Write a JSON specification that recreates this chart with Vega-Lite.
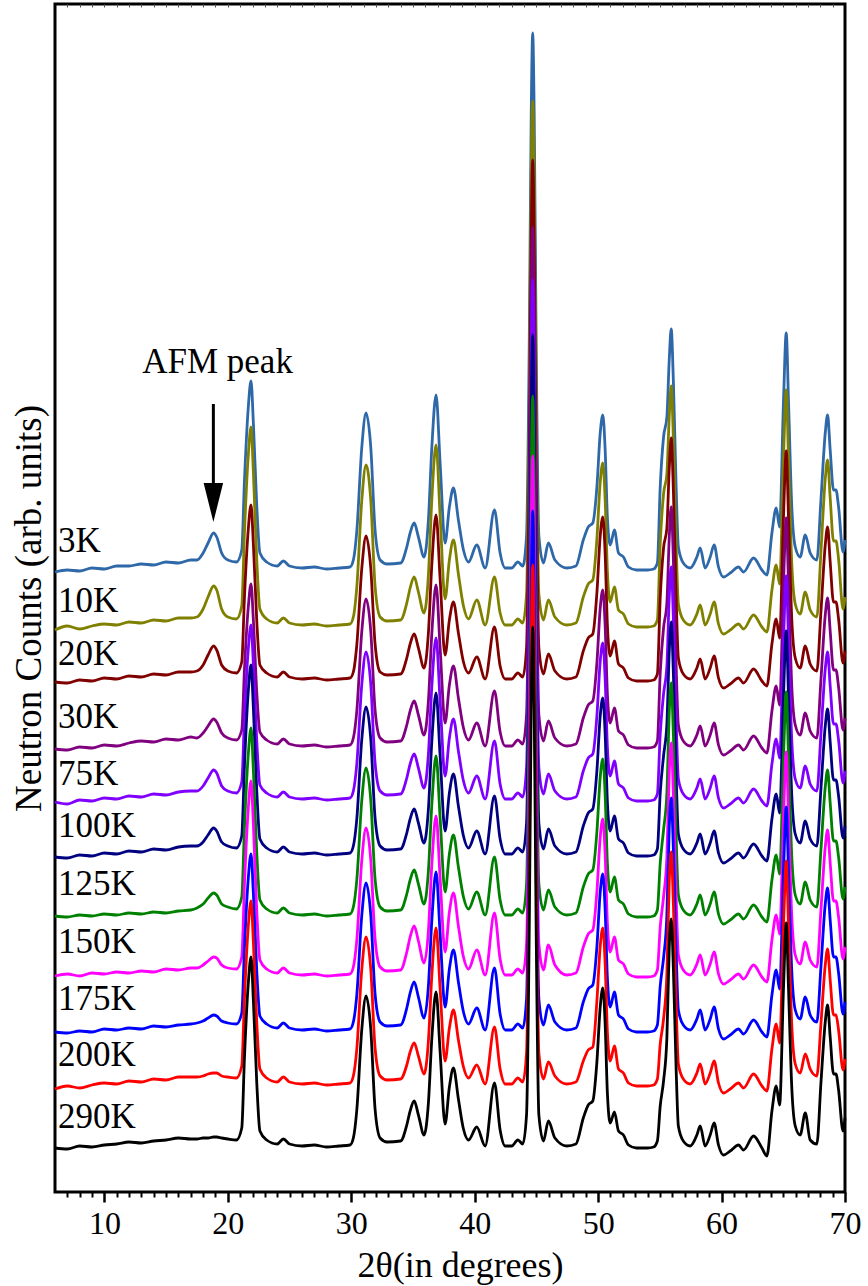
{
"$schema":"https://vega.github.io/schema/vega-lite/v6.json",
"width":790,"height":1188,
"autosize":{"type":"none"},
"padding":{"left":55,"top":4,"right":23,"bottom":94},
"background":"white",
"config":{"view":{"stroke":"black","strokeWidth":3},"font":"Liberation Serif"},
"datasets":{
"xrd":[
{"x":6,"a":620,"b":562,"c":510,"d":443,"e":390,"f":335,"g":276,"h":216,"i":160,"j":103,"k":44},
{"x":7,"a":622,"b":566,"c":509,"d":442,"e":388,"f":334,"g":275,"h":218,"i":159,"j":106,"k":43},
{"x":8,"a":621,"b":563,"c":512,"d":445,"e":392,"f":337,"g":277,"h":216,"i":161,"j":104,"k":46},
{"x":9,"a":624,"b":566,"c":511,"d":444,"e":391,"f":336,"g":276,"h":219,"i":160,"j":107,"k":45},
{"x":10,"a":623,"b":568,"c":514,"d":447,"e":394,"f":339,"g":278,"h":218,"i":163,"j":109,"k":47},
{"x":11,"a":626,"b":567,"c":513,"d":446,"e":393,"f":338,"g":277,"h":220,"i":162,"j":108,"k":48},
{"x":12,"a":626,"b":570,"c":516,"d":449,"e":396,"f":341,"g":279,"h":219,"i":164,"j":111,"k":50},
{"x":13,"a":628,"b":569,"c":515,"d":451,"e":395,"f":340,"g":278,"h":221,"i":163,"j":110,"k":49},
{"x":14,"a":627,"b":572,"c":518,"d":450,"e":398,"f":343,"g":280,"h":220,"i":166,"j":113,"k":51},
{"x":15,"a":630,"b":571,"c":517,"d":453,"e":397,"f":342,"g":279,"h":223,"i":165,"j":112,"k":52},
{"x":16,"a":629,"b":574,"c":520,"d":452,"e":400,"f":345,"g":281,"h":222,"i":167,"j":115,"k":54},
{"x":17,"a":632,"b":574,"c":520,"d":455,"e":401,"f":346,"g":282,"h":224,"i":168,"j":115,"k":53},
{"x":17.5,"a":632,"b":575,"c":521,"d":454,"e":401,"f":346,"g":284,"h":224,"i":169,"j":115,"k":53},
{"x":18.0,"a":639,"b":583,"c":527,"d":459,"e":406,"f":350,"g":288,"h":227,"i":171,"j":116,"k":54},
{"x":18.4,"a":649,"b":595,"c":537,"d":466,"e":414,"f":357,"g":294,"h":231,"i":174,"j":118,"k":54},
{"x":18.85,"a":659,"b":606,"c":546,"d":473,"e":422,"f":364,"g":299,"h":235,"i":177,"j":119,"k":55},
{"x":19.1,"a":655,"b":602,"c":542,"d":470,"e":419,"f":361,"g":297,"h":234,"i":176,"j":119,"k":55},
{"x":19.5,"a":639,"b":583,"c":527,"d":459,"e":406,"f":350,"g":288,"h":227,"i":171,"j":116,"k":54},
{"x":20.0,"a":632,"b":575,"c":521,"d":454,"e":401,"f":346,"g":285,"h":224,"i":169,"j":115,"k":53},
{"x":20.7,"a":630,"b":573,"c":519,"d":452,"e":399,"f":344,"g":283,"h":223,"i":168,"j":114,"k":52},
{"x":21.13,"a":642,"b":586,"c":530,"d":462,"e":410,"f":356,"g":295,"h":235,"i":179,"j":126,"k":64},
{"x":21.35,"a":712,"b":660,"c":595,"d":523,"e":475,"f":427,"g":365,"h":308,"i":245,"j":194,"k":135},
{"x":21.66,"a":785,"b":737,"c":663,"d":585,"e":543,"f":501,"g":438,"h":384,"i":314,"j":266,"k":209},
{"x":21.88,"a":811,"b":765,"c":687,"d":608,"e":567,"f":527,"g":464,"h":411,"i":338,"j":291,"k":235},
{"x":22.07,"a":769,"b":720,"c":648,"d":572,"e":528,"f":484,"g":422,"h":368,"i":299,"j":250,"k":192},
{"x":22.35,"a":685,"b":631,"c":570,"d":499,"e":450,"f":400,"g":338,"h":280,"i":220,"j":168,"k":108},
{"x":22.6,"a":639,"b":583,"c":527,"d":460,"e":407,"f":353,"g":292,"h":232,"i":176,"j":123,"k":61},
{"x":23.15,"a":630,"b":573,"c":519,"d":452,"e":399,"f":344,"g":283,"h":223,"i":168,"j":114,"k":52},
{"x":24.0,"a":626,"b":569,"c":515,"d":448,"e":395,"f":340,"g":279,"h":219,"i":164,"j":110,"k":48},
{"x":24.5,"a":631,"b":574,"c":520,"d":453,"e":400,"f":345,"g":284,"h":224,"i":169,"j":115,"k":53},
{"x":25.0,"a":626,"b":569,"c":515,"d":448,"e":395,"f":340,"g":279,"h":219,"i":164,"j":110,"k":48},
{"x":26,"a":624,"b":567,"c":513,"d":446,"e":393,"f":338,"g":277,"h":217,"i":162,"j":108,"k":46},
{"x":27,"a":625,"b":568,"c":514,"d":447,"e":394,"f":339,"g":278,"h":218,"i":163,"j":109,"k":47},
{"x":28,"a":623,"b":566,"c":512,"d":445,"e":392,"f":337,"g":276,"h":216,"i":161,"j":107,"k":45},
{"x":29,"a":624,"b":567,"c":513,"d":446,"e":393,"f":338,"g":277,"h":217,"i":162,"j":108,"k":46},
{"x":29.9,"a":625,"b":568,"c":514,"d":447,"e":394,"f":339,"g":278,"h":218,"i":163,"j":109,"k":47},
{"x":30.17,"a":632,"b":575,"c":520,"d":454,"e":401,"f":346,"g":285,"h":225,"i":170,"j":116,"k":54},
{"x":30.45,"a":661,"b":605,"c":547,"d":481,"e":428,"f":373,"g":312,"h":252,"i":197,"j":143,"k":82},
{"x":30.85,"a":744,"b":691,"c":623,"d":560,"e":507,"f":452,"g":391,"h":331,"i":276,"j":222,"k":162},
{"x":31.2,"a":779,"b":727,"c":656,"d":593,"e":540,"f":485,"g":424,"h":364,"i":309,"j":255,"k":196},
{"x":31.58,"a":745,"b":692,"c":624,"d":561,"e":508,"f":453,"g":392,"h":332,"i":277,"j":223,"k":163},
{"x":31.93,"a":662,"b":606,"c":548,"d":482,"e":429,"f":374,"g":313,"h":253,"i":198,"j":144,"k":83},
{"x":32.34,"a":632,"b":575,"c":520,"d":454,"e":401,"f":346,"g":285,"h":225,"i":170,"j":116,"k":54},
{"x":32.9,"a":628,"b":571,"c":517,"d":450,"e":397,"f":342,"g":281,"h":221,"i":166,"j":112,"k":50},
{"x":34.0,"a":629,"b":572,"c":518,"d":451,"e":398,"f":343,"g":282,"h":222,"i":167,"j":113,"k":51},
{"x":34.5,"a":645,"b":589,"c":534,"d":467,"e":414,"f":359,"g":298,"h":240,"i":184,"j":127,"k":67},
{"x":34.77,"a":659,"b":604,"c":548,"d":481,"e":428,"f":373,"g":312,"h":255,"i":199,"j":140,"k":81},
{"x":35.1,"a":669,"b":615,"c":558,"d":491,"e":438,"f":383,"g":322,"h":266,"i":210,"j":149,"k":91},
{"x":35.44,"a":655,"b":600,"c":544,"d":477,"e":424,"f":369,"g":308,"h":251,"i":195,"j":136,"k":77},
{"x":35.9,"a":635,"b":579,"c":524,"d":457,"e":404,"f":349,"g":288,"h":229,"i":174,"j":118,"k":57},
{"x":36.25,"a":672,"b":617,"c":559,"d":491,"e":438,"f":383,"g":321,"h":261,"i":206,"j":151,"k":89},
{"x":36.53,"a":745,"b":693,"c":628,"d":559,"e":506,"f":451,"g":388,"h":328,"i":272,"j":217,"k":154},
{"x":36.87,"a":797,"b":747,"c":677,"d":607,"e":554,"f":499,"g":436,"h":376,"i":320,"j":264,"k":200},
{"x":37.2,"a":729,"b":676,"c":613,"d":544,"e":491,"f":436,"g":374,"h":314,"i":258,"j":203,"k":140},
{"x":37.6,"a":649,"b":593,"c":537,"d":469,"e":416,"f":361,"g":300,"h":240,"i":185,"j":131,"k":68},
{"x":37.95,"a":685,"b":632,"c":572,"d":507,"e":454,"f":399,"g":338,"h":280,"i":223,"j":164,"k":105},
{"x":38.28,"a":704,"b":652,"c":590,"d":526,"e":473,"f":418,"g":357,"h":299,"i":242,"j":182,"k":124},
{"x":38.68,"a":672,"b":618,"c":559,"d":494,"e":441,"f":386,"g":325,"h":266,"i":210,"j":152,"k":93},
{"x":39.09,"a":642,"b":586,"c":530,"d":464,"e":411,"f":356,"g":295,"h":235,"i":180,"j":125,"k":63},
{"x":39.5,"a":630,"b":573,"c":519,"d":452,"e":399,"f":344,"g":283,"h":223,"i":168,"j":114,"k":52},
{"x":40.17,"a":647,"b":592,"c":535,"d":469,"e":416,"f":361,"g":300,"h":242,"i":184,"j":127,"k":65},
{"x":40.85,"a":624,"b":567,"c":513,"d":446,"e":393,"f":338,"g":277,"h":217,"i":162,"j":108,"k":46},
{"x":41.6,"a":682,"b":615,"c":565,"d":501,"e":451,"f":396,"g":335,"h":279,"i":224,"j":165,"k":109},
{"x":42.06,"a":639,"b":579,"c":526,"d":460,"e":408,"f":353,"g":292,"h":233,"i":178,"j":123,"k":62},
{"x":42.47,"a":624,"b":567,"c":513,"d":446,"e":393,"f":338,"g":277,"h":217,"i":162,"j":108,"k":46},
{"x":43.0,"a":624,"b":567,"c":513,"d":446,"e":393,"f":338,"g":277,"h":217,"i":162,"j":108,"k":46},
{"x":43.5,"a":630,"b":573,"c":519,"d":452,"e":399,"f":344,"g":283,"h":223,"i":168,"j":114,"k":52},
{"x":43.9,"a":626,"b":569,"c":515,"d":448,"e":395,"f":340,"g":279,"h":219,"i":164,"j":110,"k":48},
{"x":44.2,"a":656,"b":598,"c":544,"d":477,"e":424,"f":369,"g":308,"h":248,"i":193,"j":139,"k":77},
{"x":44.42,"a":848,"b":786,"c":730,"d":663,"e":610,"f":555,"g":494,"h":434,"i":379,"j":325,"k":263},
{"x":44.58,"a":1078,"b":1012,"c":953,"d":886,"e":833,"f":778,"g":717,"h":657,"i":602,"j":548,"k":486},
{"x":44.7,"a":1159,"b":1091,"c":1032,"d":965,"e":912,"f":857,"g":796,"h":736,"i":681,"j":627,"k":565},
{"x":44.82,"a":1078,"b":1012,"c":953,"d":886,"e":833,"f":778,"g":717,"h":657,"i":602,"j":548,"k":486},
{"x":44.98,"a":848,"b":786,"c":730,"d":663,"e":610,"f":555,"g":494,"h":434,"i":379,"j":325,"k":263},
{"x":45.2,"a":656,"b":598,"c":544,"d":477,"e":424,"f":369,"g":308,"h":248,"i":193,"j":139,"k":77},
{"x":45.57,"a":629,"b":572,"c":518,"d":451,"e":398,"f":343,"g":282,"h":222,"i":167,"j":113,"k":51},
{"x":45.97,"a":649,"b":592,"c":538,"d":471,"e":418,"f":363,"g":302,"h":247,"i":187,"j":130,"k":71},
{"x":46.5,"a":632,"b":575,"c":521,"d":454,"e":401,"f":346,"g":285,"h":227,"i":170,"j":116,"k":54},
{"x":47.46,"a":624,"b":567,"c":513,"d":446,"e":393,"f":338,"g":277,"h":217,"i":162,"j":108,"k":46},
{"x":48.2,"a":626,"b":569,"c":515,"d":448,"e":395,"f":340,"g":279,"h":219,"i":164,"j":110,"k":48},
{"x":48.8,"a":652,"b":595,"c":541,"d":474,"e":421,"f":366,"g":305,"h":245,"i":190,"j":131,"k":74},
{"x":49.2,"a":665,"b":608,"c":554,"d":487,"e":434,"f":379,"g":318,"h":258,"i":203,"j":142,"k":87},
{"x":49.57,"a":669,"b":612,"c":558,"d":491,"e":438,"f":383,"g":322,"h":262,"i":207,"j":145,"k":91},
{"x":49.9,"a":705,"b":653,"c":599,"d":529,"e":476,"f":421,"g":360,"h":300,"i":245,"j":191,"k":130},
{"x":50.17,"a":759,"b":710,"c":656,"d":584,"e":531,"f":476,"g":415,"h":355,"i":300,"j":246,"k":185},
{"x":50.38,"a":777,"b":729,"c":675,"d":602,"e":549,"f":494,"g":433,"h":373,"i":318,"j":264,"k":204},
{"x":50.57,"a":742,"b":692,"c":638,"d":566,"e":513,"f":458,"g":397,"h":337,"i":282,"j":228,"k":168},
{"x":50.75,"a":675,"b":621,"c":567,"d":498,"e":445,"f":390,"g":329,"h":269,"i":214,"j":160,"k":99},
{"x":50.98,"a":647,"b":590,"c":536,"d":469,"e":416,"f":361,"g":300,"h":240,"i":185,"j":131,"k":69},
{"x":51.32,"a":662,"b":605,"c":551,"d":484,"e":431,"f":376,"g":315,"h":255,"i":200,"j":146,"k":80},
{"x":51.65,"a":639,"b":582,"c":528,"d":461,"e":408,"f":353,"g":292,"h":232,"i":177,"j":123,"k":61},
{"x":52.05,"a":635,"b":578,"c":524,"d":457,"e":404,"f":349,"g":288,"h":228,"i":173,"j":119,"k":57},
{"x":52.46,"a":625,"b":568,"c":514,"d":447,"e":394,"f":339,"g":278,"h":218,"i":163,"j":109,"k":47},
{"x":53.1,"a":622,"b":565,"c":511,"d":444,"e":391,"f":336,"g":275,"h":215,"i":160,"j":106,"k":44},
{"x":54.0,"a":622,"b":565,"c":511,"d":444,"e":391,"f":336,"g":275,"h":215,"i":160,"j":106,"k":44},
{"x":54.5,"a":623,"b":566,"c":512,"d":445,"e":392,"f":337,"g":276,"h":216,"i":161,"j":107,"k":45},
{"x":54.8,"a":629,"b":572,"c":518,"d":451,"e":398,"f":343,"g":282,"h":222,"i":167,"j":113,"k":51},
{"x":55.03,"a":705,"b":648,"c":594,"d":519,"e":458,"f":399,"g":329,"h":265,"i":206,"j":148,"k":86},
{"x":55.3,"a":755,"b":698,"c":644,"d":564,"e":498,"f":436,"g":362,"h":295,"i":234,"j":173,"k":111},
{"x":55.57,"a":775,"b":718,"c":664,"d":589,"e":526,"f":468,"g":399,"h":335,"i":277,"j":218,"k":154},
{"x":55.76,"a":832,"b":775,"c":723,"d":654,"e":595,"f":540,"g":479,"h":419,"i":364,"j":310,"k":244},
{"x":55.92,"a":863,"b":806,"c":754,"d":685,"e":625,"f":570,"g":509,"h":449,"i":394,"j":340,"k":273},
{"x":56.1,"a":809,"b":752,"c":700,"d":631,"e":572,"f":517,"g":456,"h":396,"i":341,"j":287,"k":222},
{"x":56.32,"a":705,"b":648,"c":595,"d":527,"e":472,"f":417,"g":356,"h":296,"i":241,"j":187,"k":123},
{"x":56.5,"a":645,"b":588,"c":534,"d":467,"e":413,"f":358,"g":297,"h":237,"i":182,"j":128,"k":66},
{"x":56.9,"a":629,"b":572,"c":518,"d":451,"e":398,"f":343,"g":282,"h":222,"i":167,"j":113,"k":51},
{"x":57.46,"a":624,"b":567,"c":513,"d":446,"e":393,"f":338,"g":277,"h":217,"i":162,"j":108,"k":46},
{"x":58.0,"a":635,"b":578,"c":524,"d":457,"e":404,"f":349,"g":288,"h":228,"i":173,"j":119,"k":57},
{"x":58.27,"a":644,"b":587,"c":533,"d":466,"e":413,"f":358,"g":297,"h":237,"i":182,"j":128,"k":66},
{"x":58.67,"a":624,"b":567,"c":513,"d":446,"e":393,"f":338,"g":277,"h":217,"i":162,"j":108,"k":46},
{"x":59.08,"a":635,"b":578,"c":524,"d":457,"e":404,"f":349,"g":288,"h":228,"i":173,"j":119,"k":57},
{"x":59.4,"a":647,"b":590,"c":536,"d":469,"e":416,"f":361,"g":300,"h":240,"i":185,"j":131,"k":69},
{"x":59.75,"a":625,"b":568,"c":514,"d":447,"e":394,"f":339,"g":278,"h":218,"i":163,"j":109,"k":47},
{"x":60.16,"a":615,"b":558,"c":504,"d":437,"e":384,"f":329,"g":268,"h":208,"i":153,"j":99,"k":37},
{"x":60.7,"a":619,"b":562,"c":508,"d":441,"e":388,"f":333,"g":272,"h":212,"i":157,"j":103,"k":41},
{"x":61.37,"a":625,"b":568,"c":514,"d":447,"e":394,"f":339,"g":278,"h":218,"i":163,"j":109,"k":47},
{"x":61.78,"a":620,"b":563,"c":509,"d":442,"e":389,"f":334,"g":273,"h":213,"i":158,"j":104,"k":42},
{"x":62.59,"a":634,"b":577,"c":523,"d":456,"e":403,"f":348,"g":287,"h":227,"i":172,"j":118,"k":56},
{"x":63.27,"a":622,"b":565,"c":511,"d":444,"e":391,"f":336,"g":275,"h":215,"i":160,"j":106,"k":44},
{"x":63.67,"a":617,"b":560,"c":506,"d":439,"e":386,"f":331,"g":270,"h":210,"i":155,"j":101,"k":36},
{"x":64.08,"a":659,"b":602,"c":548,"d":481,"e":428,"f":373,"g":312,"h":252,"i":197,"j":143,"k":81},
{"x":64.43,"a":684,"b":627,"c":573,"d":506,"e":453,"f":398,"g":337,"h":277,"i":222,"j":168,"k":106},
{"x":64.7,"a":665,"b":608,"c":554,"d":487,"e":434,"f":379,"g":318,"h":258,"i":203,"j":149,"k":87},
{"x":65.02,"a":792,"b":735,"c":676,"d":609,"e":552,"f":497,"g":436,"h":376,"i":321,"j":267,"k":205},
{"x":65.24,"a":859,"b":802,"c":741,"d":674,"e":616,"f":561,"g":500,"h":440,"i":385,"j":331,"k":269},
{"x":65.42,"a":792,"b":735,"c":676,"d":609,"e":552,"f":497,"g":436,"h":376,"i":321,"j":267,"k":205},
{"x":65.69,"a":685,"b":628,"c":572,"d":505,"e":451,"f":396,"g":335,"h":275,"i":220,"j":166,"k":104},
{"x":65.97,"a":645,"b":588,"c":534,"d":467,"e":413,"f":358,"g":297,"h":237,"i":182,"j":128,"k":66},
{"x":66.37,"a":635,"b":578,"c":524,"d":457,"e":404,"f":349,"g":288,"h":228,"i":173,"j":119,"k":57},
{"x":66.78,"a":657,"b":600,"c":546,"d":479,"e":426,"f":371,"g":310,"h":250,"i":195,"j":138,"k":79},
{"x":67.18,"a":639,"b":582,"c":528,"d":461,"e":408,"f":353,"g":292,"h":232,"i":177,"j":123,"k":52},
{"x":67.72,"a":632,"b":575,"c":521,"d":454,"e":401,"f":346,"g":285,"h":225,"i":170,"j":116,"k":48},
{"x":68.05,"a":692,"b":640,"c":580,"d":512,"e":458,"f":403,"g":342,"h":282,"i":225,"j":168,"k":109},
{"x":68.4,"a":759,"b":713,"c":647,"d":577,"e":523,"f":466,"g":405,"h":345,"i":288,"j":227,"k":170},
{"x":68.59,"a":777,"b":732,"c":665,"d":594,"e":540,"f":483,"g":422,"h":362,"i":304,"j":243,"k":187},
{"x":68.8,"a":742,"b":694,"c":630,"d":561,"e":506,"f":450,"g":389,"h":329,"i":272,"j":212,"k":155},
{"x":69.07,"a":702,"b":651,"c":590,"d":522,"e":468,"f":412,"g":351,"h":291,"i":235,"j":177,"k":118},
{"x":69.27,"a":702,"b":651,"c":590,"d":522,"e":468,"f":412,"g":351,"h":291,"i":235,"j":177,"k":118},
{"x":69.48,"a":685,"b":633,"c":573,"d":505,"e":452,"f":396,"g":335,"h":275,"i":219,"j":162,"k":102},
{"x":69.84,"a":640,"b":583,"c":529,"d":462,"e":409,"f":354,"g":293,"h":233,"i":178,"j":122,"k":61},
{"x":70.0,"a":652,"b":595,"c":541,"d":474,"e":421,"f":366,"g":305,"h":245,"i":190,"j":133,"k":74}
],
"labels":[
{"x":6.25,"v":640,"t":"3K"},
{"x":6.25,"v":580,"t":"10K"},
{"x":6.25,"v":527,"t":"20K"},
{"x":6.25,"v":464,"t":"30K"},
{"x":6.25,"v":407,"t":"75K"},
{"x":6.25,"v":355,"t":"100K"},
{"x":6.25,"v":297,"t":"125K"},
{"x":6.25,"v":239,"t":"150K"},
{"x":6.25,"v":182,"t":"175K"},
{"x":6.25,"v":126,"t":"200K"},
{"x":6.25,"v":64,"t":"290K"}
],
"arrow":[{"x":18.83,"v":788,"v2":705}],
"head":[{"x":18.83,"v":689.5}],
"note":[{"x":19.17,"v":819,"t":"AFM peak"}]
},
"layer":[
{
"data":{"name":"xrd"},
"transform":[{"fold":["a","b","c","d","e","f","g","h","i","j","k"],"as":["s","v"]}],
"mark":{"type":"line","strokeWidth":2.8,"interpolate":"monotone","strokeJoin":"round"},
"encoding":{
"x":{"field":"x","type":"quantitative","scale":{"domain":[6,70],"nice":false,"zero":false},
"axis":{"orient":"bottom","values":[10,20,30,40,50,60,70],"tickSize":10,"tickWidth":2.5,"tickColor":"black","domain":false,"grid":false,
"labelFont":"Liberation Serif","labelFontSize":32,"labelColor":"black","labelBaseline":"alphabetic","labelPadding":31,"labelFlush":false,
"title":"2θ(in degrees)","titleFont":"Liberation Serif","titleFontSize":36,"titleFontWeight":"normal","titleColor":"black","titleX":405,"titleY":84,"titleAlign":"center","titleBaseline":"alphabetic"}},
"y":{"field":"v","type":"quantitative","scale":{"domain":[0,1188],"nice":false,"zero":false},
"axis":{"title":"Neutron Counts (arb. units)","ticks":false,"labels":false,"domain":false,"grid":false,
"titleFont":"Liberation Serif","titleFontSize":37,"titleFontWeight":"normal","titleColor":"black","titleX":-15,"titleY":604,"titleAngle":-90,"titleAlign":"center","titleBaseline":"alphabetic"}},
"color":{"field":"s","type":"nominal","scale":{"domain":["a","b","c","d","e","f","g","h","i","j","k"],"range":["#2e68a8","#808000","#800000","#800080","#8000ff","#000080","#008000","#ff00ff","#0000ff","#ff0000","#000000"]},"legend":null}
}
},
{
"data":{"name":"labels"},
"mark":{"type":"text","align":"left","baseline":"alphabetic","font":"Liberation Serif","fontSize":35,"color":"black"},
"encoding":{
"x":{"field":"x","type":"quantitative","axis":{"orient":"bottom","values":[7,8,9,11,12,13,14,15,16,17,18,19,21,22,23,24,25,26,27,28,29,31,32,33,34,35,36,37,38,39,41,42,43,44,45,46,47,48,49,51,52,53,54,55,56,57,58,59,61,62,63,64,65,66,67,68,69],"tickSize":5,"tickWidth":2,"tickColor":"black","labels":false,"domain":false,"grid":false,"title":null}},
"y":{"field":"v","type":"quantitative","axis":null},
"text":{"field":"t"}
}
},
{
"data":{"name":"arrow"},
"mark":{"type":"rule","strokeWidth":3,"color":"black"},
"encoding":{
"x":{"field":"x","type":"quantitative","axis":{"orient":"top","values":[7,8,9,10,11,12,13,14,15,16,17,18,19,20,21,22,23,24,25,26,27,28,29,30,31,32,33,34,35,36,37,38,39,40,41,42,43,44,45,46,47,48,49,50,51,52,53,54,55,56,57,58,59,60,61,62,63,64,65,66,67,68,69],"tickSize":-3,"tickWidth":1,"tickColor":"#555555","labels":false,"domain":false,"grid":false,"title":null}},
"y":{"field":"v","type":"quantitative","axis":null},
"y2":{"field":"v2"}
}
},
{
"data":{"name":"head"},
"mark":{"type":"point","shape":"M-0.5,-1L0.5,-1L0,1Z","size":1521,"filled":true,"color":"black","opacity":1,"strokeWidth":0},
"encoding":{
"x":{"field":"x","type":"quantitative","axis":null},
"y":{"field":"v","type":"quantitative","axis":null}
}
},
{
"data":{"name":"note"},
"mark":{"type":"text","align":"center","baseline":"alphabetic","font":"Liberation Serif","fontSize":35,"color":"black"},
"encoding":{
"x":{"field":"x","type":"quantitative","axis":null},
"y":{"field":"v","type":"quantitative","axis":null},
"text":{"field":"t"}
}
}
],
"resolve":{"axis":{"x":"independent","y":"independent"}}
}
